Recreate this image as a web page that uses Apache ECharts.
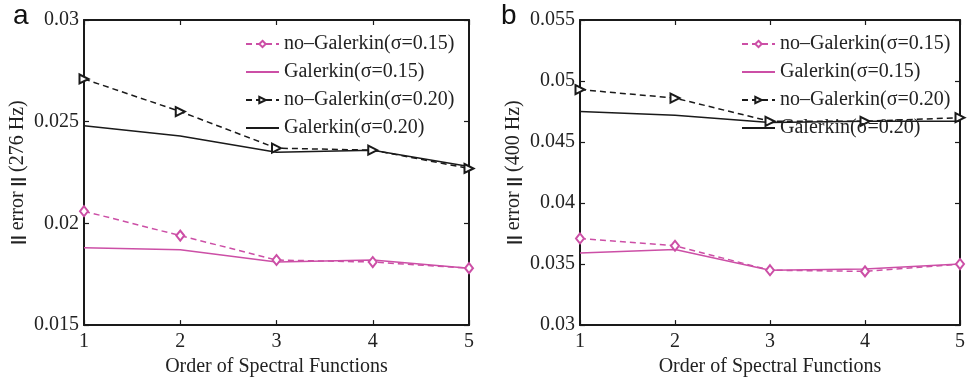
<!DOCTYPE html>
<html><head><meta charset="utf-8">
<script src="https://cdn.jsdelivr.net/npm/echarts@6/dist/echarts.min.js"></script>
<style>html,body{margin:0;padding:0;background:#fff}#c{width:968px;height:382px}</style>
</head><body><div id="c"></div>
<script>
const orders = [1, 2, 3, 4, 5];
const xTicks = ['1', '2', '3', '4', '5'];
const legendNames = ['no\u2013Galerkin(\u03c3=0.15)', 'Galerkin(\u03c3=0.15)', 'no\u2013Galerkin(\u03c3=0.20)', 'Galerkin(\u03c3=0.20)'];
// panel a (276 Hz)
const aNoGal15 = [0.0206, 0.0194, 0.0182, 0.0181, 0.0178];
const aGal15   = [0.0188, 0.0187, 0.0181, 0.0182, 0.0178];
const aNoGal20 = [0.0271, 0.0255, 0.0237, 0.0236, 0.0227];
const aGal20   = [0.0248, 0.0243, 0.0235, 0.0236, 0.0228];
// panel b (400 Hz)
const bNoGal15 = [0.0371, 0.0365, 0.0345, 0.0344, 0.0350];
const bGal15   = [0.0359, 0.0362, 0.0345, 0.0346, 0.0350];
const bNoGal20 = [0.0493, 0.0486, 0.0467, 0.0467, 0.0470];
const bGal20   = [0.0475, 0.0472, 0.0466, 0.0467, 0.0467];
const aYTicks = [0.015, 0.02, 0.025, 0.03];
const bYTicks = [0.03, 0.035, 0.04, 0.045, 0.05, 0.055];

const PINK = '#cc4fa6', BLACK = '#1a1a1a';
const SERIF = '"Liberation Serif", "Times New Roman", serif';
const FS = 20;
const pairs = v => orders.map((x, i) => [x, v[i]]);

function xAx(grid, pos) {
  const bottom = pos === 'bottom';
  return {
    type: 'value', gridIndex: grid, position: pos, min: 1, max: 5, interval: 1,
    axisLine: {show: true, onZero: false, lineStyle: {color: BLACK, width: 2}},
    axisTick: {show: true, inside: true, length: 5, lineStyle: {color: BLACK, width: 1.2}},
    axisLabel: {show: bottom, margin: 7, fontFamily: SERIF, fontSize: FS, color: '#222',
      formatter: v => xTicks[orders.indexOf(v)] ?? ''},
    splitLine: {show: false},
    name: bottom ? 'Order of Spectral Functions' : '', nameLocation: 'middle', nameGap: 23,
    nameTextStyle: {fontFamily: SERIF, fontSize: FS, color: '#222'}
  };
}
function yAx(grid, pos, ticks, name) {
  const left = pos === 'left';
  return {
    type: 'value', gridIndex: grid, position: pos, min: ticks[0], max: ticks[ticks.length - 1],
    interval: 0.005,
    axisLine: {show: true, onZero: false, lineStyle: {color: BLACK, width: 2}},
    axisTick: {show: true, inside: true, length: 5, lineStyle: {color: BLACK, width: 1.2}},
    axisLabel: {show: left, margin: 5, fontFamily: SERIF, fontSize: FS, color: '#222',
      formatter: v => { const t = ticks.find(k => Math.abs(k - v) < 1e-9); return t === undefined ? '' : String(t); }},
    splitLine: {show: false},
    name: left ? name : '', nameLocation: 'middle', nameGap: 56, nameRotate: 90,
    nameTextStyle: {fontFamily: SERIF, fontSize: FS, color: '#222',
      rich: {b: {fontFamily: '"Liberation Sans", Arial, sans-serif', fontWeight: 'bold', fontSize: 17, color: '#222'}}}
  };
}
function lines(xi, yi, noG15, g15, noG20, g20) {
  const dash = [6, 4];
  return [
    {name: legendNames[0], type: 'line', xAxisIndex: xi, yAxisIndex: yi, data: pairs(noG15),
     symbol: 'emptyDiamond', symbolSize: [8, 10], lineStyle: {color: PINK, width: 1.5, type: dash},
     itemStyle: {color: PINK, borderColor: PINK, borderWidth: 1.5}, z: 3},
    {name: legendNames[1], type: 'line', xAxisIndex: xi, yAxisIndex: yi, data: pairs(g15),
     symbol: 'none', lineStyle: {color: PINK, width: 1.5}, itemStyle: {color: PINK}, z: 2},
    {name: legendNames[2], type: 'line', xAxisIndex: xi, yAxisIndex: yi, data: pairs(noG20),
     symbol: 'emptyTriangle', symbolRotate: -90, symbolSize: [9, 9], lineStyle: {color: BLACK, width: 1.5, type: dash},
     itemStyle: {color: BLACK, borderColor: BLACK, borderWidth: 1.2}, z: 3},
    {name: legendNames[3], type: 'line', xAxisIndex: xi, yAxisIndex: yi, data: pairs(g20),
     symbol: 'none', lineStyle: {color: BLACK, width: 1.5}, itemStyle: {color: BLACK}, z: 2}
  ];
}
function legend(left) {
  return {
    orient: 'vertical', left: left, top: 34, padding: 0, itemWidth: 33, itemHeight: 8, itemGap: 8,
    selectedMode: false,
    data: [
      {name: legendNames[0]},
      {name: legendNames[1], itemStyle: {opacity: 0}},
      {name: legendNames[2]},
      {name: legendNames[3], itemStyle: {opacity: 0}}
    ],
    textStyle: {fontFamily: SERIF, fontSize: FS, color: '#222'}
  };
}

const chart = echarts.init(document.getElementById('c'), null, {renderer: 'canvas'});
chart.setOption({
  backgroundColor: '#fff',
  animation: false,
  grid: [
    {left: 84, right: 499, top: 20, bottom: 53},
    {left: 580, right: 4, top: 20, bottom: 52}
  ],
  xAxis: [xAx(0, 'bottom'), xAx(0, 'top'), xAx(1, 'bottom'), xAx(1, 'top')],
  yAxis: [yAx(0, 'left', aYTicks, '{b|||} error {b|||} (276 Hz)'), yAx(0, 'right', aYTicks, ''),
          yAx(1, 'left', bYTicks, '{b|||} error {b|||} (400 Hz)'), yAx(1, 'right', bYTicks, '')],
  legend: [legend(245), legend(741)],
  graphic: [
    {type: 'text', left: 13, top: 2, style: {text: 'a', font: '28px "Liberation Sans", Arial, sans-serif', fill: '#111'}},
    {type: 'text', left: 501, top: 2, style: {text: 'b', font: '28px "Liberation Sans", Arial, sans-serif', fill: '#111'}}
  ],
  series: [
    ...lines(0, 0, aNoGal15, aGal15, aNoGal20, aGal20),
    ...lines(2, 2, bNoGal15, bGal15, bNoGal20, bGal20)
  ]
});
</script></body></html>
